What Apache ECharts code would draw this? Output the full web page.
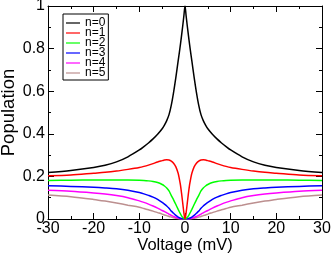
<!DOCTYPE html>
<html>
<head>
<meta charset="utf-8">
<script src="https://cdn.jsdelivr.net/npm/echarts@6/dist/echarts.min.js"></script>
<style>html,body{margin:0;padding:0;background:#fff;}#c{width:332px;height:255px;}</style>
</head>
<body>
<div id="c"></div>
<script>
var voltage = [-30,-25,-20,-17.5,-15,-12.5,-10,-9,-8,-7,-6,-5,-4.5,-4,-3.5,-3,-2.5,-2,-1.5,-1.25,-1,-0.75,-0.5,-0.25,0,
  0.25,0.5,0.75,1,1.25,1.5,2,2.5,3,3.5,4,4.5,5,6,7,8,9,10,12.5,15,17.5,20,25,30];
var seriesNames = ['n=0','n=1','n=2','n=3','n=4','n=5'];
var n0 = [0.218,0.228,0.242,0.252,0.268,0.292,0.324,0.34,0.357,0.376,0.398,0.424,0.441,0.462,0.49,0.535,0.595,0.665,0.742,0.78,0.82,0.862,0.906,0.953,1.0,
  0.953,0.906,0.862,0.82,0.78,0.742,0.665,0.595,0.535,0.49,0.462,0.441,0.424,0.398,0.376,0.357,0.34,0.324,0.292,0.268,0.252,0.242,0.228,0.218];
var n1 = [0.203,0.207,0.215,0.219,0.225,0.233,0.242,0.247,0.253,0.26,0.268,0.274,0.277,0.278,0.277,0.272,0.262,0.245,0.215,0.19,0.16,0.12,0.075,0.03,0,
  0.03,0.075,0.12,0.16,0.19,0.215,0.245,0.262,0.272,0.277,0.278,0.277,0.274,0.268,0.26,0.253,0.247,0.242,0.233,0.225,0.219,0.215,0.207,0.203];
var n2 = [0.181,0.182,0.183,0.183,0.183,0.183,0.182,0.181,0.179,0.176,0.171,0.162,0.155,0.146,0.132,0.11,0.09,0.068,0.045,0.034,0.024,0.015,0.008,0.002,0,
  0.002,0.008,0.015,0.024,0.034,0.045,0.068,0.09,0.11,0.132,0.146,0.155,0.162,0.171,0.176,0.179,0.181,0.182,0.183,0.183,0.183,0.183,0.182,0.181];
var n3 = [0.156,0.153,0.149,0.146,0.142,0.135,0.124,0.118,0.111,0.103,0.092,0.078,0.07,0.061,0.05,0.037,0.027,0.017,0.009,0.006,0.004,0.002,0.001,0.0002,0,
  0.0002,0.001,0.002,0.004,0.006,0.009,0.017,0.027,0.037,0.05,0.061,0.07,0.078,0.092,0.103,0.111,0.118,0.124,0.135,0.142,0.146,0.149,0.153,0.156];
var n4 = [0.135,0.13,0.122,0.117,0.11,0.1,0.085,0.078,0.07,0.061,0.051,0.04,0.035,0.029,0.023,0.017,0.012,0.007,0.004,0.0025,0.0015,0.0008,0.0003,0.0001,0,
  0.0001,0.0003,0.0008,0.0015,0.0025,0.004,0.007,0.012,0.017,0.023,0.029,0.035,0.04,0.051,0.061,0.07,0.078,0.085,0.1,0.11,0.117,0.122,0.13,0.135];
var n5 = [0.113,0.105,0.092,0.084,0.075,0.065,0.055,0.049,0.043,0.037,0.03,0.023,0.019,0.016,0.012,0.009,0.006,0.0035,0.0018,0.001,0.0006,0.0003,0.0001,0,0,
  0,0.0001,0.0003,0.0006,0.001,0.0018,0.0035,0.006,0.009,0.012,0.016,0.019,0.023,0.03,0.037,0.043,0.049,0.055,0.065,0.075,0.084,0.092,0.105,0.113];
var xTicks = [-30,-20,-10,0,10,20,30];
var yTicks = [0,0.2,0.4,0.6,0.8,1];

var colors = ['#000000','#ff0000','#00ff00','#0000ff','#ff00ff','#bc8f8f'];
var allData = [n0,n1,n2,n3,n4,n5];
var font = '"Liberation Sans", Arial, Helvetica, sans-serif';

function pairs(arr){ return voltage.map(function(v,i){ return [v, arr[i]]; }); }

var tickCommon = {show:true, inside:true, length:6, lineStyle:{color:'#000', width:1}};
var minorCommon = {show:true, splitNumber:2, length:3, lineStyle:{color:'#000', width:1}};

var chart = echarts.init(document.getElementById('c'), null, {renderer:'canvas'});
chart.setOption({
  animation:false,
  backgroundColor:'#fff',
  grid:{left:48, right:10, top:6, bottom:36, containLabel:false, outerBoundsMode:'none'},
  legend:{
    orient:'vertical', left:63, top:14,
    data:seriesNames,
    itemWidth:14, itemHeight:10, itemGap:-2,
    padding:[3,3,1,3],
    borderColor:'#000', borderWidth:1,
    backgroundColor:'#fff',
    textStyle:{fontFamily:font, fontSize:12, color:'#000'},
    icon:'path://M0,4.4 L14,4.4 L14,5.6 L0,5.6 Z'
  },
  xAxis:[{
    type:'value', min:-30, max:30, interval:10,
    name:'Voltage (mV)', nameLocation:'middle', nameGap:18, nameMoveOverlap:false,
    nameTextStyle:{fontFamily:font, fontSize:16.5, color:'#000'},
    axisLine:{show:true, onZero:false, lineStyle:{color:'#000', width:1}},
    axisTick:tickCommon, minorTick:minorCommon,
    axisLabel:{fontFamily:font, fontSize:16, lineHeight:14, color:'#000', margin:3,
      formatter:function(v){ return xTicks.indexOf(v) >= 0 ? String(v) : ''; }},
    splitLine:{show:false}
  },{
    type:'value', position:'top', min:-30, max:30, interval:10,
    axisLine:{show:true, onZero:false, lineStyle:{color:'#000', width:1}},
    axisTick:tickCommon, minorTick:minorCommon,
    axisLabel:{show:false}, splitLine:{show:false}
  }],
  yAxis:[{
    type:'value', min:0, max:1, interval:0.2,
    name:'Population', nameLocation:'middle', nameGap:30, nameMoveOverlap:false,
    nameTextStyle:{fontFamily:font, fontSize:18.5, color:'#000'},
    axisLine:{show:true, onZero:false, lineStyle:{color:'#000', width:1}},
    axisTick:tickCommon, minorTick:minorCommon,
    axisLabel:{fontFamily:font, fontSize:16, color:'#000', margin:3,
      formatter:function(v){ var r = Math.round(v*10)/10; return yTicks.indexOf(r) >= 0 ? String(r) : ''; }},
    splitLine:{show:false}
  },{
    type:'value', position:'right', min:0, max:1, interval:0.2,
    axisLine:{show:true, onZero:false, lineStyle:{color:'#000', width:1}},
    axisTick:tickCommon, minorTick:minorCommon,
    axisLabel:{show:false}, splitLine:{show:false}
  }],
  series: seriesNames.map(function(name, i){
    return {
      name:name, type:'line', data:pairs(allData[i]),
      xAxisIndex:0, yAxisIndex:0,
      symbol:'none', smooth:0.3, clip:true,
      lineStyle:{color:colors[i], width:1.5},
      itemStyle:{color:colors[i]},
      z: 10 - i
    };
  })
});
</script>
</body>
</html>
